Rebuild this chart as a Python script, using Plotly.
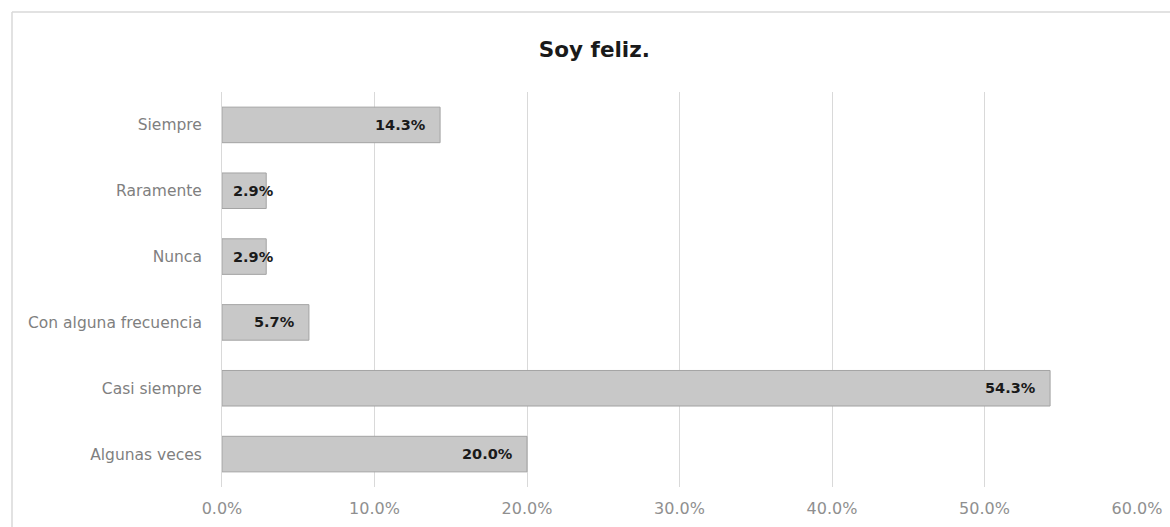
import plotly.graph_objects as go

categories = ["Algunas veces", "Casi siempre", "Con alguna frecuencia", "Nunca", "Raramente", "Siempre"]
values = [20.0, 54.3, 5.7, 2.9, 2.9, 14.3]
tick_vals = [0, 10, 20, 30, 40, 50, 60]
tick_text = ["0.0%", "10.0%", "20.0%", "30.0%", "40.0%", "50.0%", "60.0%"]

FONT = "DejaVu Sans, sans-serif"
X_MAX = 60
PLOT_W = 915  # plot area width in px

fig = go.Figure()
fig.add_trace(go.Bar(
    x=values,
    y=categories,
    orientation="h",
    marker=dict(color="#c8c8c8", line=dict(color="#a3a3a3", width=1)),
    hoverinfo="skip",
))

# value labels: right-aligned inside the bar end, or at the bar base when the bar is too short
for cat, v in zip(categories, values):
    label = f"{v:.1f}%"
    bar_px = v / X_MAX * PLOT_W
    if bar_px > 80:
        fig.add_annotation(x=v, y=cat, text=f"<b>{label}</b>", showarrow=False,
                           xanchor="right", xshift=-12,
                           font=dict(family=FONT, size=14.5, color="#1a1a1a"))
    else:
        fig.add_annotation(x=0, y=cat, text=f"<b>{label}</b>", showarrow=False,
                           xanchor="left", xshift=9,
                           font=dict(family=FONT, size=14.5, color="#1a1a1a"))

# chart frame edges (left and top)
fig.add_shape(type="line", xref="paper", yref="paper", x0=-0.2295, x1=1.1, y0=1.2025, y1=1.2025,
              line=dict(color="#d9d9d9", width=1.5))
fig.add_shape(type="line", xref="paper", yref="paper", x0=-0.2295, x1=-0.2295, y0=-0.2, y1=1.2025,
              line=dict(color="#d9d9d9", width=1.5))

fig.update_layout(
    width=1170,
    height=527,
    margin=dict(l=222, r=33, t=92, b=40, autoexpand=False),
    paper_bgcolor="white",
    plot_bgcolor="white",
    bargap=0.46,
    showlegend=False,
    title=dict(
        text="<b>Soy feliz.</b>",
        x=0.508, xanchor="center", y=0.907, yanchor="middle",
        font=dict(family=FONT, size=21.5, color="#1a1a1a"),
    ),
    xaxis=dict(
        range=[0, X_MAX],
        tickvals=tick_vals,
        ticktext=tick_text,
        showgrid=True,
        gridcolor="#d9d9d9",
        gridwidth=1,
        zeroline=False,
        showline=False,
        tickfont=dict(family=FONT, size=16, color="#8f8f8f"),
        ticks="",
        ticklabelstandoff=10,
        automargin=False,
        fixedrange=True,
    ),
    yaxis=dict(
        categoryorder="array",
        categoryarray=categories,
        showgrid=False,
        zeroline=False,
        showline=True,
        linecolor="#d9d9d9",
        linewidth=1,
        ticks="",
        tickfont=dict(family=FONT, size=15.5, color="#7f7f7f"),
        ticklabelstandoff=16,
        automargin=False,
        fixedrange=True,
    ),
)

fig.write_html("out.html")
